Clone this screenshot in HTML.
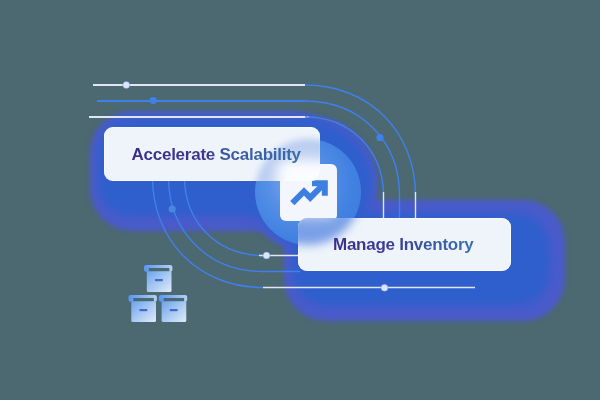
<!DOCTYPE html>
<html><head><meta charset="utf-8">
<style>
html,body{margin:0;padding:0;}
body{width:600px;height:400px;overflow:hidden;background:#4c6870;position:relative;font-family:"Liberation Sans",sans-serif;}
.abs{position:absolute;}
.g{position:absolute;background:#4a5bcb;filter:blur(2.5px);}
.gi{position:absolute;background:#2f5fcc;filter:blur(4.5px);}
.circle{left:254.5px;top:138.5px;width:106px;height:106px;border-radius:50%;
  background:radial-gradient(circle at 40% 42%, #7eaaee 0%, #5690e6 32%, #4181e1 62%, #3a79de 100%);}
.icon{left:280px;top:164px;width:57px;height:57px;border-radius:6px;background:#f3f6fc;}
.card{position:absolute;border-radius:9px;background:#eff4fb;overflow:hidden;box-shadow:inset 0 0 0 1px rgba(255,255,255,0.55);}
.card1{left:104px;top:127px;width:216px;height:54px;}
.card2{left:298px;top:218px;width:213px;height:53px;}
.card .bc{position:absolute;border-radius:50%;background:radial-gradient(circle at 45% 45%, rgba(110,150,228,0.25) 0%, rgba(90,135,222,0.35) 55%, rgba(50,100,210,0.8) 88%, rgba(50,100,210,0.75) 100%);filter:blur(3px);}
.card .wb{position:absolute;border-radius:10px;background:rgba(255,255,255,0.92);filter:blur(6px);}
.txt{position:absolute;font-weight:bold;font-size:17px;letter-spacing:-0.25px;line-height:20px;white-space:nowrap;
  -webkit-background-clip:text;background-clip:text;color:transparent;}
.t1{left:131.5px;top:144.5px;background-image:linear-gradient(90deg,#3b2b8a 0%,#3b3a92 45%,#3a58a2 55%,#3a6ca8 100%);}
.t2{left:333px;top:234.5px;background-image:linear-gradient(90deg,#3d2d8c 0%,#3b3f95 45%,#3a5aa2 70%,#3a6eae 100%);}
</style></head>
<body>
<!-- glows -->
<div class="g" style="left:90px;top:111px;width:247px;height:120px;border-radius:42px;"></div>
<div class="g" style="left:284px;top:200px;width:281px;height:121px;border-radius:42px;"></div>
<div class="g" style="left:242px;top:116px;width:136px;height:136px;border-radius:50%;"></div>
<div class="gi" style="left:98px;top:119px;width:233px;height:97px;border-radius:32px;"></div>
<div class="gi" style="left:292px;top:213px;width:258px;height:93px;border-radius:34px;"></div>
<div class="gi" style="left:248px;top:122px;width:124px;height:124px;border-radius:50%;filter:blur(4px);"></div>
<svg class="abs" style="left:0;top:0" width="600" height="400" viewBox="0 0 600 400">
  <g fill="none" stroke-width="1.4">
    <path d="M93 85 H305" stroke="#dfe7f5" stroke-width="2"/>
    <path d="M305 85.0 C369.1 85.0 415.5 131.4 415.5 195.5" stroke="#3f80ec"/>
    <path d="M415.5 192 V220" stroke="#dfe7f5"/>
    <path d="M97 101 H305" stroke="#3f80ec" stroke-width="2"/>
    <path d="M305 101.0 C359.8 101.0 399.5 140.7 399.5 195.5 V220" stroke="#3f80ec"/>
    <path d="M89 117 H309" stroke="#dfe7f5" stroke-width="2"/>
    <path d="M305 117.0 C350.5 117.0 383.5 150.0 383.5 195.5" stroke="#3f80ec"/>
    <path d="M383.5 192 V220" stroke="#dfe7f5"/>
    <path d="M152.5 177 C152.5 241.1 198.9 287.5 263 287.5" stroke="#3f80ec"/>
    <path d="M263 287.5 H475" stroke="#dfe7f5"/>
    <path d="M168.5 177 C168.5 231.8 208.2 271.5 263 271.5 H300" stroke="#3f80ec"/>
    <path d="M184.5 177 C184.5 222.5 217.5 255.5 263 255.5" stroke="#3f80ec"/>
    <path d="M259 255.5 H300" stroke="#dfe7f5"/>
  </g>
  <circle cx="126.3" cy="85" r="3.5" fill="#dde6f6" stroke="#4a86e8" stroke-width="0.6" stroke-opacity="0.7"/>
  <circle cx="153.3" cy="100.5" r="3.6" fill="#3f80ec"/>
  <circle cx="380" cy="137.6" r="3.6" fill="#3f80ec"/>
  <circle cx="172.2" cy="209" r="3.6" fill="#4a86e0"/>
  <circle cx="266.5" cy="255.4" r="3.5" fill="#dde6f6" stroke="#4a86e8" stroke-width="0.6" stroke-opacity="0.7"/>
  <circle cx="384.5" cy="287.8" r="3.5" fill="#dde6f6" stroke="#4a86e8" stroke-width="0.6" stroke-opacity="0.7"/>
</svg>
<div class="abs circle"></div>
<div class="abs icon"></div>
<svg class="abs" style="left:0;top:0" width="600" height="400" viewBox="0 0 600 400"><g fill="none" stroke="#3d7fe0" stroke-width="6" stroke-linejoin="miter" stroke-linecap="butt"><path d="M292.3 203.2 L304 191.5 L310.2 197.7 L324.7 183.2"/><path d="M312 183.35 H324.8 V195.8"/></g></svg>
<div class="card card1">
  <div class="bc" style="left:150.5px;top:11.5px;width:106px;height:106px;"></div>
  <div class="wb" style="left:173px;top:33px;width:62px;height:62px;"></div>
</div>
<div class="card card2">
  <div style="position:absolute;left:-43.5px;top:-79.5px;width:106px;height:106px;border-radius:50%;background:rgba(60,115,220,0.65);filter:blur(5px);"></div>
  <div class="wb" style="left:-18px;top:-56px;width:57px;height:57px;opacity:0.6"></div>
</div>
<div class="txt t1">Accelerate Scalability</div>
<div class="txt t2">Manage Inventory</div>
<svg class="abs" style="left:0;top:0" width="600" height="400" viewBox="0 0 600 400">
  <defs>
    <linearGradient id="bx" x1="0" y1="0" x2="1" y2="1">
      <stop offset="0" stop-color="#6ca2ee"/>
      <stop offset="0.5" stop-color="#a8c8f2"/>
      <stop offset="1" stop-color="#e0ebfa"/>
    </linearGradient>
    <linearGradient id="lid" x1="0" y1="0" x2="1" y2="0">
      <stop offset="0" stop-color="#5896f0"/>
      <stop offset="1" stop-color="#b4d0f4"/>
    </linearGradient>
  </defs>
  <g id="box">
    <rect x="146.8" y="271" width="24.7" height="21" rx="1.5" fill="url(#bx)"/>
    <rect x="144" y="265" width="28.4" height="6.8" rx="2" fill="url(#lid)"/>
    <rect x="148.8" y="268" width="20.5" height="3.2" fill="#4c6870"/>
    <rect x="155" y="279" width="7.8" height="2.2" fill="#3a6ed0"/>
  </g>
  <use href="#box" x="-15.5" y="30"/>
  <use href="#box" x="14.8" y="30"/>
</svg>
</body></html>
